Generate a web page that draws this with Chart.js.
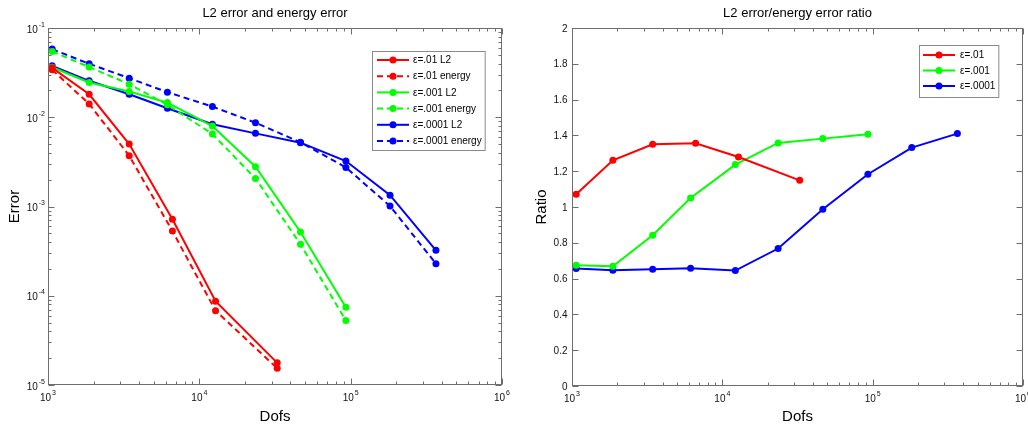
<!DOCTYPE html>
<html>
<head>
<meta charset="utf-8">
<script src="https://cdn.jsdelivr.net/npm/chart.js@4.4.1/dist/chart.umd.min.js"></script>
<style>
  html, body { margin: 0; padding: 0; background: #fff; }
  #wrap { position: relative; width: 1028px; height: 427px; overflow: hidden; }
  canvas { position: absolute; top: 0; }
</style>
</head>
<body>
<div id="wrap">
  <canvas id="errorChart" width="514" height="427" style="left:0"></canvas>
  <canvas id="ratioChart" width="514" height="427" style="left:514px"></canvas>
</div>
<script>
// degrees of freedom
const dofs = [1066, 1870, 3440, 6150, 12200, 23500, 46600, 93000, 182000, 366000];
const dofsEps01 = [1066, 1870, 3440, 6640, 12800, 32700];

// left plot: errors
const l2Eps01 = [0.0358, 0.0181, 0.00501, 7.2e-4, 8.7e-5, 1.77e-5];
const energyEps01 = [0.0340, 0.0141, 0.00371, 5.3e-4, 6.8e-5, 1.54e-5];
const l2Eps001 = [0.0363, 0.0245, 0.0194, 0.0146, 0.00798, 0.00279, 5.19e-4, 7.45e-5];
const energyEps001 = [0.0546, 0.0365, 0.0235, 0.0138, 0.00649, 0.00206, 3.77e-4, 5.27e-5];
const l2Eps0001 = [0.0377, 0.0256, 0.0181, 0.0126, 0.00834, 0.0066, 0.00519, 0.00323, 0.00134, 3.23e-4];
const energyEps0001 = [0.058, 0.0397, 0.0274, 0.0191, 0.01316, 0.00869, 0.00524, 0.00274, 0.00101, 2.29e-4];

// right plot: ratios
const ratioEps01 = [1.071, 1.261, 1.350, 1.356, 1.279, 1.149];
const ratioEps001 = [0.674, 0.669, 0.842, 1.05, 1.237, 1.358, 1.382, 1.406];
const ratioEps0001 = [0.656, 0.646, 0.652, 0.658, 0.645, 0.768, 0.987, 1.183, 1.332, 1.41];

const ratioTicks = [0, 0.2, 0.4, 0.6, 0.8, 1, 1.2, 1.4, 1.6, 1.8, 2];
const ratioTickLabels = ['0', '0.2', '0.4', '0.6', '0.8', '1', '1.2', '1.4', '1.6', '1.8', '2'];

const FONT = '"Liberation Sans", Arial, Helvetica, sans-serif';
const frameColor = '#6e6e6e';
const RED = '#ff0000', GREEN = '#00ff00', BLUE = '#0000ff';

function pts(xs, ys) {
  return ys.map((y, i) => ({ x: xs[i], y: y }));
}

function series(label, xs, ys, color, dashed) {
  return {
    label: label,
    data: pts(xs, ys),
    borderColor: color,
    backgroundColor: color,
    borderWidth: 2,
    borderDash: dashed ? [6, 4] : [],
    pointRadius: 3.5,
    pointBorderWidth: 0,
    pointHoverRadius: 3.5,
    tension: 0,
    fill: false
  };
}

function logTicks(min, max) {
  const out = [];
  for (let d = Math.floor(Math.log10(min)); d <= Math.log10(max); d++) {
    for (let k = 1; k <= 9; k++) {
      const v = k * Math.pow(10, d);
      if (v >= min * 0.999 && v <= max * 1.001) out.push({ v: v, major: k === 1, exp: d });
    }
  }
  return out;
}

// "10" with a raised exponent; y is the baseline of "10"
function drawPow(ctx, exp, x, y, align) {
  ctx.font = `10px ${FONT}`;
  const wBase = ctx.measureText('10').width;
  ctx.font = `7px ${FONT}`;
  const wExp = ctx.measureText(exp).width;
  const total = wBase + 1 + wExp;
  const x0 = align === 'center' ? x - total / 2 : x - total;
  ctx.textAlign = 'left';
  ctx.textBaseline = 'alphabetic';
  ctx.font = `10px ${FONT}`;
  ctx.fillText('10', x0, y);
  ctx.font = `7px ${FONT}`;
  ctx.fillText(exp, x0 + wBase + 1, y - 6);
}

const matlabAxes = {
  id: 'matlab',
  afterDatasetsDraw(chart, args, opts) {
    const { ctx, chartArea: a } = chart;
    const xs = chart.scales.x, ys = chart.scales.y;
    const L = Math.round(a.left) + 0.5, R = Math.round(a.right) - 0.5;
    const T = Math.round(a.top) + 0.5, B = Math.round(a.bottom) - 0.5;
    ctx.save();

    // box + inward ticks
    ctx.strokeStyle = frameColor;
    ctx.lineWidth = 1;
    ctx.setLineDash([]);
    ctx.strokeRect(L, T, R - L, B - T);

    ctx.beginPath();
    const xt = logTicks(xs.min, xs.max);
    xt.forEach(t => {
      const px = Math.round(xs.getPixelForValue(t.v)) + 0.5;
      const len = t.major ? 6 : 3;
      ctx.moveTo(px, B); ctx.lineTo(px, B - len);
      ctx.moveTo(px, T); ctx.lineTo(px, T + len);
    });
    let yt;
    if (opts.yLog) {
      yt = logTicks(ys.min, ys.max);
    } else {
      yt = ratioTicks.map((v, i) => ({ v: v, major: true, label: ratioTickLabels[i] }));
    }
    yt.forEach(t => {
      const py = Math.round(ys.getPixelForValue(t.v)) + 0.5;
      const len = t.major ? 6 : 3;
      ctx.moveTo(L, py); ctx.lineTo(L + len, py);
      ctx.moveTo(R, py); ctx.lineTo(R - len, py);
    });
    ctx.stroke();

    // tick labels
    ctx.fillStyle = '#111';
    xt.filter(t => t.major).forEach(t => {
      drawPow(ctx, String(t.exp), xs.getPixelForValue(t.v), a.bottom + 16, 'center');
    });
    yt.filter(t => t.major).forEach(t => {
      const py = ys.getPixelForValue(t.v);
      if (opts.yLog) {
        drawPow(ctx, String(t.exp), a.left - 3, py + 4.5, 'right');
      } else {
        ctx.font = `10px ${FONT}`;
        ctx.textAlign = 'right';
        ctx.textBaseline = 'alphabetic';
        ctx.fillText(t.label, a.left - 4.5, py + 3.5);
      }
    });

    // titles
    ctx.fillStyle = '#000';
    const cx = (a.left + a.right) / 2;
    ctx.textAlign = 'center';
    ctx.textBaseline = 'middle';
    ctx.font = `13px ${FONT}`;
    ctx.fillText(opts.title, cx, 13);
    ctx.font = `15px ${FONT}`;
    ctx.fillText(opts.xLabel, cx, 417);
    ctx.save();
    ctx.translate(opts.yLabelX, (a.top + a.bottom) / 2);
    ctx.rotate(-Math.PI / 2);
    ctx.fillText(opts.yLabel, 0, 0);
    ctx.restore();

    // legend
    const lg = opts.legend;
    const sets = chart.data.datasets;
    ctx.font = `10px ${FONT}`;
    const maxW = Math.max(...sets.map(d => ctx.measureText(d.label).width));
    const boxR = lg.textX + maxW + 3;
    ctx.fillStyle = '#fff';
    ctx.fillRect(lg.x, lg.y, boxR - lg.x, lg.h);
    ctx.strokeStyle = '#8a8a8a';
    ctx.strokeRect(lg.x + 0.5, lg.y + 0.5, boxR - lg.x, lg.h);
    sets.forEach((d, i) => {
      const ry = lg.row0 + i * lg.rowH;
      ctx.strokeStyle = d.borderColor;
      ctx.lineWidth = 2;
      ctx.setLineDash(d.borderDash);
      ctx.beginPath();
      ctx.moveTo(lg.lineX0, ry); ctx.lineTo(lg.lineX1, ry);
      ctx.stroke();
      ctx.setLineDash([]);
      ctx.fillStyle = d.borderColor;
      ctx.beginPath();
      ctx.arc((lg.lineX0 + lg.lineX1) / 2, ry, 3.5, 0, Math.PI * 2);
      ctx.fill();
      ctx.fillStyle = '#000';
      ctx.textAlign = 'left';
      ctx.textBaseline = 'middle';
      ctx.fillText(d.label, lg.textX, ry + 0.5);
    });
    ctx.restore();
  }
};

new Chart(document.getElementById('errorChart'), {
  type: 'line',
  data: {
    datasets: [
      series('\u03b5=.01 L2', dofsEps01, l2Eps01, RED, false),
      series('\u03b5=.01 energy', dofsEps01, energyEps01, RED, true),
      series('\u03b5=.001 L2', dofs, l2Eps001, GREEN, false),
      series('\u03b5=.001 energy', dofs, energyEps001, GREEN, true),
      series('\u03b5=.0001 L2', dofs, l2Eps0001, BLUE, false),
      series('\u03b5=.0001 energy', dofs, energyEps0001, BLUE, true)
    ]
  },
  options: {
    responsive: false,
    animation: false,
    events: [],
    layout: { padding: { left: 48, top: 28, right: 12, bottom: 42 } },
    scales: {
      x: { type: 'logarithmic', min: 1e3, max: 1e6, display: false },
      y: { type: 'logarithmic', min: 1e-5, max: 1e-1, display: false }
    },
    plugins: {
      legend: { display: false },
      tooltip: { enabled: false },
      matlab: {
        yLog: true,
        title: 'L2 error and energy error',
        xLabel: 'Dofs',
        yLabel: 'Error',
        yLabelX: 15,
        legend: { x: 372, y: 51, h: 99, row0: 60, rowH: 16.2, lineX0: 377, lineX1: 409, textX: 413 }
      }
    }
  },
  plugins: [matlabAxes]
});

new Chart(document.getElementById('ratioChart'), {
  type: 'line',
  data: {
    datasets: [
      series('\u03b5=.01', dofsEps01, ratioEps01, RED, false),
      series('\u03b5=.001', dofs.slice(0, ratioEps001.length), ratioEps001, GREEN, false),
      series('\u03b5=.0001', dofs, ratioEps0001, BLUE, false)
    ]
  },
  options: {
    responsive: false,
    animation: false,
    events: [],
    layout: { padding: { left: 58, top: 28, right: 5, bottom: 41 } },
    scales: {
      x: { type: 'logarithmic', min: 1e3, max: 1e6, display: false },
      y: { type: 'linear', min: 0, max: 2, display: false }
    },
    plugins: {
      legend: { display: false },
      tooltip: { enabled: false },
      matlab: {
        yLog: false,
        title: 'L2 error/energy error ratio',
        xLabel: 'Dofs',
        yLabel: 'Ratio',
        yLabelX: 28,
        legend: { x: 405, y: 45, h: 52, row0: 55, rowH: 15.5, lineX0: 409, lineX1: 441, textX: 446 }
      }
    }
  },
  plugins: [matlabAxes]
});
</script>
</body>
</html>
